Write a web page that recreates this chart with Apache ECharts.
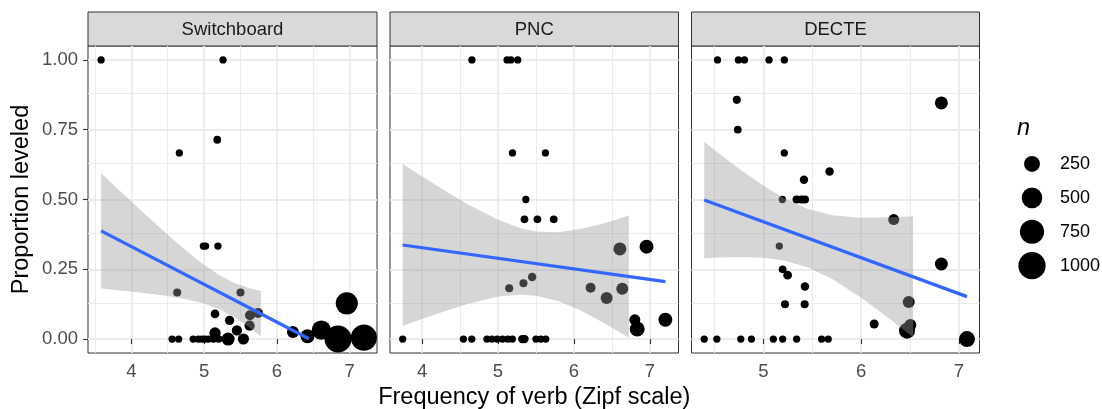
<!DOCTYPE html>
<html><head><meta charset="utf-8">
<script src="https://cdn.jsdelivr.net/npm/echarts@6/dist/echarts.min.js"></script>
<style>html,body{margin:0;padding:0;background:#fff}#c{width:1102px;height:409px}</style>
</head><body><div id="c"></div>
<script>
// ---------- data ----------
const panels = ['Switchboard', 'PNC', 'DECTE'];

const sbX = [3.585, 5.26, 5.18, 4.66, 4.99, 5.02, 5.19, 4.63, 5.50, 5.15, 5.35, 5.63, 5.74, 5.625, 5.45, 5.15,
             4.56, 4.65, 4.85, 4.92, 4.97, 5.01, 5.06, 5.13, 5.20, 5.33, 5.54, 6.22, 6.42, 6.61, 6.84, 6.96, 7.195];
const sbY = [1, 1, 0.714, 0.667, 0.333, 0.333, 0.333, 0.167, 0.167, 0.09, 0.067, 0.085, 0.093, 0.048, 0.031, 0.022,
             0, 0, 0, 0, 0, 0, 0, 0, 0, 0, 0, 0.025, 0.01, 0.032, 0, 0.128, 0.005];
const sbN = [15, 15, 21, 15, 15, 15, 15, 24, 24, 33, 45, 58, 58, 63, 65, 90,
             15, 15, 15, 15, 15, 15, 15, 18, 18, 140, 85, 108, 174, 420, 977, 600, 900];

const pncX = [4.657, 5.12, 5.17, 5.26, 5.191, 5.625, 5.367, 5.349, 5.52, 5.735, 6.606, 6.957,
              5.148, 5.336, 5.45, 6.22, 6.431, 6.637, 6.803, 6.834, 7.205,
              3.745, 4.545, 4.655, 4.855, 4.92, 4.99, 5.06, 5.13, 5.19, 5.32, 5.35, 5.50, 5.565, 5.63];
const pncY = [1, 1, 1, 1, 0.667, 0.667, 0.5, 0.429, 0.429, 0.429, 0.323, 0.331,
              0.182, 0.2, 0.222, 0.184, 0.147, 0.18, 0.069, 0.036, 0.069,
              0, 0, 0, 0, 0, 0, 0, 0, 0, 0, 0, 0, 0, 0];
const pncN = [15, 15, 15, 15, 15, 15, 15, 20, 20, 20, 139, 174,
              24, 24, 30, 58, 108, 108, 81, 213, 174,
              15, 15, 15, 15, 15, 15, 15, 15, 15, 28, 28, 15, 15, 15];

const decX = [4.531, 4.745, 4.806, 5.058, 5.214, 4.728, 4.738, 5.214, 5.677, 5.415, 5.194, 5.34, 5.39, 5.425,
              6.82, 6.333, 5.163, 6.82, 5.197, 5.248, 5.425, 5.221, 5.422, 6.133, 6.486, 6.503, 6.469, 7.082,
              4.395, 4.524, 4.769, 4.878, 5.102, 5.197, 5.34, 5.595, 5.663];
const decY = [1, 1, 1, 1, 1, 0.857, 0.75, 0.667, 0.6, 0.571, 0.5, 0.5, 0.5, 0.5,
              0.846, 0.428, 0.333, 0.269, 0.25, 0.229, 0.188, 0.125, 0.125, 0.054, 0.133, 0.05, 0.03, 0,
              0, 0, 0, 0, 0, 0, 0, 0, 0];
const decN = [15, 15, 15, 15, 15, 24, 20, 15, 30, 30, 15, 26, 26, 26,
              139, 81, 15, 139, 20, 35, 30, 24, 24, 40, 108, 108, 255, 255,
              15, 15, 15, 15, 15, 15, 15, 15, 15];

// fitted lines (end points) and confidence ribbons
const sbLineX = [3.585, 6.44];   const sbLineY = [0.3875, 0.001];
const pncLineX = [3.745, 7.205]; const pncLineY = [0.337, 0.2055];
const decLineX = [4.395, 7.082]; const decLineY = [0.498, 0.152];

const sbRibX  = [3.585, 3.8, 4.0, 4.25, 4.5, 4.75, 5.0, 5.2, 5.4, 5.6, 5.78];
const sbRibHi = [0.594, 0.541, 0.493, 0.433, 0.374, 0.317, 0.265, 0.230, 0.203, 0.184, 0.172];
const sbRibLo = [0.181, 0.175, 0.170, 0.162, 0.154, 0.143, 0.127, 0.108, 0.081, 0.046, 0.009];

const pncRibX  = [3.745, 3.95, 4.2, 4.6, 5.0, 5.3, 5.5, 5.8, 6.1, 6.4, 6.6, 6.724];
const pncRibHi = [0.627, 0.591, 0.548, 0.483, 0.427, 0.397, 0.385, 0.383, 0.395, 0.415, 0.432, 0.443];
const pncRibLo = [0.047, 0.067, 0.091, 0.126, 0.152, 0.159, 0.155, 0.135, 0.101, 0.057, 0.025, 0.005];

const decRibX  = [4.395, 4.55, 4.7, 4.85, 5.0, 5.2, 5.45, 5.7, 6.0, 6.3, 6.531];
const decRibHi = [0.707, 0.664, 0.624, 0.586, 0.550, 0.507, 0.467, 0.444, 0.435, 0.436, 0.440];
const decRibLo = [0.289, 0.292, 0.293, 0.293, 0.291, 0.282, 0.257, 0.216, 0.148, 0.070, 0.006];

// axis ticks
const xTicks = [3, 4, 5, 6, 7, 8];
const xMinor = [3.5, 4.5, 5.5, 6.5, 7.5];
const yTicks = [0, 0.25, 0.5, 0.75, 1];
const yMinor = [0.125, 0.375, 0.625, 0.875];
const legendN = [250, 500, 750, 1000];

// ---------- layout / style ----------
const FONT = '"Liberation Sans", Arial, Helvetica, sans-serif';
const SMALL = 18.5, BIG = 23.5;
const panelLeft = [88, 390, 691.5];
const panelWidth = [289, 288.5, 288];
const panelTop = 46, panelHeight = 307, stripTop = 12, stripH = 34;
const xDomain = [[3.405, 7.375], [3.578, 7.378], [4.265, 7.21]];
const yDomain = [-0.05, 1.05];
const sizeOf = n => 4.5 + 0.72 * Math.sqrt(n);

const pts = [[sbX, sbY, sbN], [pncX, pncY, pncN], [decX, decY, decN]];
const lines = [[sbLineX, sbLineY], [pncLineX, pncLineY], [decLineX, decLineY]];
const ribs = [[sbRibX, sbRibHi, sbRibLo], [pncRibX, pncRibHi, pncRibLo], [decRibX, decRibHi, decRibLo]];

const grids = [], xAxes = [], yAxes = [], series = [], graphics = [];

for (let i = 0; i < 3; i++) {
  const [lo, hi] = xDomain[i];
  const inR = v => v >= lo && v <= hi;
  grids.push({left: panelLeft[i], top: panelTop, width: panelWidth[i], height: panelHeight,
              containLabel: false, outerBoundsMode: 'none',
              show: true, borderColor: '#333333', borderWidth: 1, backgroundColor: '#fff'});
  xAxes.push({
    type: 'value', gridIndex: i, min: lo, max: hi,
    axisLine: {show: false},
    splitLine: {show: false},
    axisTick: {show: true, length: 5, customValues: xTicks.filter(inR), lineStyle: {color: '#333333', width: 1.1}},
    axisLabel: {show: true, margin: 9, customValues: xTicks.filter(inR), color: '#4D4D4D', fontSize: SMALL, fontFamily: FONT},
    name: i === 1 ? 'Frequency of verb (Zipf scale)' : '',
    nameLocation: 'middle', nameGap: 31,
    nameTextStyle: {fontSize: BIG, color: '#000', fontFamily: FONT}
  });
  yAxes.push({
    type: 'value', gridIndex: i, min: yDomain[0], max: yDomain[1],
    axisLine: {show: false},
    splitLine: {show: false},
    axisTick: {show: i === 0, length: 5, customValues: yTicks, lineStyle: {color: '#333333', width: 1.1}},
    axisLabel: {show: i === 0, margin: 10, customValues: yTicks, color: '#4D4D4D', fontSize: SMALL, fontFamily: FONT,
                formatter: v => Number(v).toFixed(2)},
    name: i === 0 ? 'Proportion leveled' : '',
    nameLocation: 'middle', nameGap: 54,
    nameTextStyle: {fontSize: BIG, color: '#000', fontFamily: FONT}
  });
  // grid lines (under everything)
  const ml = [];
  xMinor.filter(inR).forEach(v => ml.push({xAxis: v, lineStyle: {color: '#EBEBEB', width: 1.0, type: 'solid'}}));
  yMinor.forEach(v => ml.push({yAxis: v, lineStyle: {color: '#EBEBEB', width: 1.0, type: 'solid'}}));
  xTicks.filter(inR).forEach(v => ml.push({xAxis: v, lineStyle: {color: '#EBEBEB', width: 1.8, type: 'solid'}}));
  yTicks.forEach(v => ml.push({yAxis: v, lineStyle: {color: '#EBEBEB', width: 1.8, type: 'solid'}}));
  series.push({type: 'line', xAxisIndex: i, yAxisIndex: i, data: [], z: 0, silent: true, symbol: 'none',
    markLine: {z: 0, silent: true, symbol: 'none', animation: false, label: {show: false},
               emphasis: {disabled: true}, data: ml}});
  // points
  const [X, Y, N] = pts[i];
  series.push({type: 'scatter', xAxisIndex: i, yAxisIndex: i, z: 2, silent: true, clip: false,
    data: X.map((x, k) => [x, Y[k], N[k]]),
    symbolSize: v => sizeOf(v[2]),
    itemStyle: {color: '#000', opacity: 1}});
  // ribbon
  const [RX, RH, RL] = ribs[i];
  series.push({type: 'custom', xAxisIndex: i, yAxisIndex: i, z: 3, silent: true, data: [[RX[0], RH[0]]],
    renderItem: (params, api) => {
      const p = [];
      for (let k = 0; k < RX.length; k++) p.push(api.coord([RX[k], RH[k]]));
      for (let k = RX.length - 1; k >= 0; k--) p.push(api.coord([RX[k], RL[k]]));
      return {type: 'polygon', shape: {points: p}, style: {fill: 'rgba(153,153,153,0.4)', stroke: null}};
    }});
  // fitted line
  const [LX, LY] = lines[i];
  series.push({type: 'line', xAxisIndex: i, yAxisIndex: i, z: 4, silent: true, symbol: 'none',
    data: LX.map((x, k) => [x, LY[k]]), lineStyle: {color: '#3366FF', width: 3.2}});
  // strip
  graphics.push({type: 'rect', shape: {x: panelLeft[i], y: stripTop, width: panelWidth[i], height: stripH},
    style: {fill: '#D9D9D9', stroke: '#333333', lineWidth: 1}});
  graphics.push({type: 'text', x: panelLeft[i] + panelWidth[i] / 2, y: stripTop + stripH / 2 + 1,
    style: {text: panels[i], align: 'center', verticalAlign: 'middle', font: SMALL + 'px ' + FONT, fill: '#1A1A1A'}});
}

// size legend (drawn through its own small grid)
grids.push({left: 1020, top: 147, width: 24, height: 135.6, show: false, containLabel: false, outerBoundsMode: 'none'});
xAxes.push({type: 'value', gridIndex: 3, min: 0, max: 1, show: false});
yAxes.push({type: 'category', gridIndex: 3, data: legendN.map(String), inverse: true, position: 'right',
  axisLine: {show: false}, axisTick: {show: false}, splitLine: {show: false},
  axisLabel: {margin: 16, color: '#000', fontSize: 18, fontFamily: FONT}});
series.push({type: 'scatter', xAxisIndex: 3, yAxisIndex: 3, silent: true, clip: false,
  data: legendN.map(n => [0.5, String(n), n]), symbolSize: v => sizeOf(v[2]),
  itemStyle: {color: '#000', opacity: 1}});
graphics.push({type: 'text', x: 1017, y: 128,
  style: {text: 'n', align: 'left', verticalAlign: 'middle', font: 'italic ' + BIG + 'px ' + FONT, fill: '#000'}});

const chart = echarts.init(document.getElementById('c'), null, {renderer: 'canvas'});
chart.setOption({
  animation: false,
  backgroundColor: '#fff',
  textStyle: {fontFamily: FONT},
  grid: grids, xAxis: xAxes, yAxis: yAxes, series: series, graphic: graphics
});
</script></body></html>
